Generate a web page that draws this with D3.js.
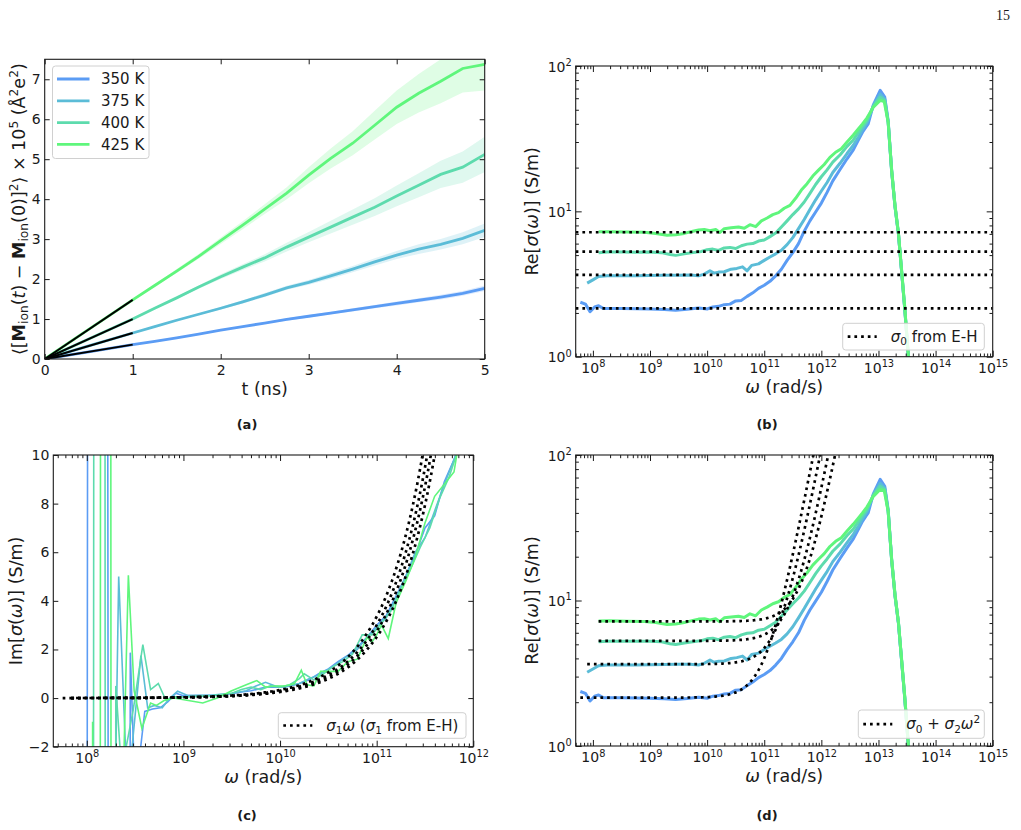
<!DOCTYPE html>
<html>
<head>
<meta charset="utf-8">
<script src="https://cdn.jsdelivr.net/npm/d3@7"></script>
<style>
  body { margin: 0; background: #fff; }
  svg { font-family: "DejaVu Sans", sans-serif; }
</style>
</head>
<body>
<svg id="fig" width="1021" height="830"></svg>
<script>
// ---------- data ----------
var temps = ["350 K", "375 K", "400 K", "425 K"];
var colors = ["#5b9cf4", "#5bbcd7", "#5ddbad", "#5ff67c"];

// (a) MSD of ionic dipole, x1e5, vs t (ns)
var tA = [0, 0.5, 1, 1.25, 1.5, 1.75, 2, 2.25, 2.5, 2.75, 3, 3.25, 3.5, 3.75, 4, 4.25, 4.5, 4.75, 5];
var msd350 = [0, 0.18, 0.36, 0.44, 0.53, 0.62, 0.72, 0.81, 0.9, 0.99, 1.07, 1.15, 1.23, 1.31, 1.39, 1.47, 1.55, 1.64, 1.77];
var msd375 = [0, 0.33, 0.65, 0.81, 0.97, 1.12, 1.27, 1.43, 1.6, 1.78, 1.92, 2.08, 2.25, 2.43, 2.6, 2.75, 2.87, 3.02, 3.22];
var msd400 = [0, 0.5, 1.0, 1.27, 1.53, 1.8, 2.06, 2.3, 2.53, 2.8, 3.05, 3.3, 3.55, 3.8, 4.08, 4.35, 4.62, 4.8, 5.12];
var msd425 = [0, 0.74, 1.48, 1.84, 2.2, 2.57, 2.96, 3.35, 3.75, 4.15, 4.6, 5.02, 5.4, 5.85, 6.3, 6.65, 6.95, 7.27, 7.37];
var err350 = [0, 0, 0, 0.01, 0.01, 0.01, 0.02, 0.02, 0.02, 0.03, 0.03, 0.03, 0.04, 0.04, 0.05, 0.05, 0.06, 0.06, 0.07];
var err375 = [0, 0, 0.01, 0.01, 0.02, 0.02, 0.03, 0.04, 0.05, 0.05, 0.06, 0.07, 0.08, 0.09, 0.1, 0.12, 0.13, 0.15, 0.17];
var err400 = [0, 0.01, 0.01, 0.02, 0.03, 0.04, 0.06, 0.07, 0.09, 0.11, 0.13, 0.16, 0.19, 0.22, 0.26, 0.3, 0.34, 0.39, 0.44];
var err425 = [0, 0.01, 0.02, 0.03, 0.05, 0.06, 0.08, 0.1, 0.12, 0.15, 0.2, 0.25, 0.3, 0.36, 0.42, 0.48, 0.55, 0.6, 0.65];
var fitSlopeA = [0.36, 0.65, 1.0, 1.48];   // black fits over 0-1 ns
var xTicksA = [0, 1, 2, 3, 4, 5];
var yTicksA = [0, 1, 2, 3, 4, 5, 6, 7];

// (b),(d) Re[sigma] : [log10(omega), S/m]
var re350 = [[7.78,2.37],[7.87,2.30],[7.95,2.04],[8.03,2.2],[8.1,2.24],[8.18,2.15],[8.3,2.15],[8.5,2.15],[8.75,2.14],[9.0,2.13],[9.25,2.11],[9.45,2.09],[9.65,2.12],[9.85,2.16],[10.0,2.13],[10.1,2.2],[10.2,2.22],[10.3,2.28],[10.4,2.3],[10.5,2.42],[10.6,2.44],[10.7,2.6],[10.8,2.75],[10.9,2.95],[11.0,3.1],[11.1,3.3],[11.2,3.6],[11.3,4.0],[11.4,4.6],[11.5,5.2],[11.6,6.0],[11.7,7.3],[11.8,8.6],[11.9,9.9],[12.0,11.4],[12.1,13.5],[12.2,16.2],[12.33,19.5],[12.45,23],[12.56,26.5],[12.65,31],[12.72,35],[12.78,38],[12.82,40],[12.91,54],[13.03,68],[13.11,61],[13.17,42],[13.23,19.3],[13.29,10.8],[13.35,7.0],[13.46,2.15],[13.6,0.4]];
var re375 = [[7.9,3.21],[8.0,3.38],[8.1,3.56],[8.25,3.6],[8.5,3.6],[8.75,3.61],[9.0,3.62],[9.25,3.63],[9.5,3.64],[9.7,3.65],[9.85,3.6],[9.95,3.7],[10.05,3.9],[10.12,3.76],[10.2,3.82],[10.3,3.84],[10.42,4.0],[10.52,4.05],[10.62,4.15],[10.7,3.9],[10.78,4.25],[10.9,4.35],[11.0,4.6],[11.1,4.85],[11.2,5.1],[11.3,5.4],[11.4,5.9],[11.5,6.6],[11.6,7.6],[11.7,8.8],[11.8,10.3],[11.9,12.0],[12.0,13.8],[12.1,15.8],[12.2,18.5],[12.33,21.5],[12.45,25],[12.56,28.5],[12.65,32.5],[12.72,36.5],[12.8,41],[12.91,53],[13.03,64],[13.11,59],[13.17,41],[13.23,19],[13.29,10.7],[13.35,6.95],[13.46,2.12],[13.6,0.4]];
var re400 = [[8.1,5.2],[8.25,5.25],[8.5,5.25],[8.75,5.24],[9.0,5.25],[9.2,5.2],[9.35,5.05],[9.45,4.98],[9.6,5.1],[9.75,5.2],[9.9,5.3],[10.0,5.45],[10.1,5.5],[10.2,5.38],[10.3,5.6],[10.4,5.65],[10.5,5.55],[10.6,5.8],[10.7,5.95],[10.8,6.0],[10.9,6.25],[11.0,6.35],[11.1,6.7],[11.2,7.1],[11.3,7.8],[11.4,8.6],[11.5,9.5],[11.6,10.4],[11.7,11.6],[11.8,13.3],[11.9,15.3],[12.0,17.3],[12.1,19.3],[12.2,21.8],[12.33,24.5],[12.45,28],[12.56,31],[12.65,35],[12.72,38.5],[12.8,42.5],[12.91,53],[13.03,61],[13.11,58],[13.17,41],[13.23,19],[13.29,10.8],[13.35,7.0],[13.46,2.15],[13.6,0.4]];
var re425 = [[8.1,7.24],[8.3,7.25],[8.6,7.2],[8.9,7.18],[9.1,7.05],[9.3,6.85],[9.45,6.9],[9.6,7.05],[9.75,7.3],[9.85,7.45],[9.95,7.5],[10.05,7.35],[10.15,7.5],[10.22,7.15],[10.3,7.6],[10.42,7.7],[10.55,7.8],[10.65,7.65],[10.75,8.1],[10.85,7.85],[10.95,8.6],[11.05,9.0],[11.15,9.5],[11.25,9.8],[11.35,10.5],[11.45,11.0],[11.55,12.3],[11.65,14.0],[11.75,15.5],[11.85,17.5],[11.95,19.2],[12.05,21],[12.15,23.5],[12.25,25.5],[12.35,27],[12.45,30],[12.56,33.5],[12.65,37],[12.72,40],[12.8,44],[12.91,52],[13.03,58],[13.1,57],[13.17,41],[13.23,19.5],[13.29,11],[13.35,7.1],[13.46,2.2],[13.6,0.4]];
var sigma0 = [2.15, 3.65, 5.28, 7.18];          // S/m, from E-H
var sigma2 = [1.86e-22, 1.06e-22, 5.45e-23, 3.07e-23];

// (c) Im[sigma] : [log10(omega), S/m]
var im350 = [[7.9,-400],[8.11,400],[8.33,-400],[8.45,1.87],[8.5,-4],[8.6,-0.55],[8.68,-0.45],[8.76,-0.4],[8.84,-0.15],[8.92,0.2],[9.0,0.1],[9.2,0.1],[9.4,0.12],[9.6,0.25],[9.7,0.3],[9.85,0.45],[10.0,0.45],[10.1,0.5],[10.2,0.6],[10.3,0.75],[10.4,1.0],[10.5,1.2],[10.6,1.5],[10.7,1.75],[10.8,2.1],[10.9,2.5],[11.0,3.0],[11.1,3.4],[11.2,4.2],[11.3,5.0],[11.4,5.9],[11.5,7.0],[11.6,7.5],[11.7,8.9],[11.8,9.8],[11.9,11]];
var im375 = [[8.15,-40],[8.33,5.0],[8.42,-4],[8.56,1.75],[8.63,-0.4],[8.7,-0.3],[8.78,-0.4],[8.86,0.0],[8.94,0.28],[9.05,0.1],[9.3,0.12],[9.5,0.2],[9.65,0.3],[9.75,0.5],[9.85,0.65],[9.95,0.5],[10.05,0.45],[10.2,0.6],[10.3,0.8],[10.4,0.95],[10.55,1.3],[10.65,1.6],[10.8,2.0],[10.9,2.5],[11.0,2.9],[11.1,3.3],[11.2,4.1],[11.3,5.0],[11.4,6.0],[11.5,6.6],[11.6,7.7],[11.7,8.8],[11.8,9.8],[11.9,10.8]];
var im400 = [[8.0,-400],[8.14,400],[8.24,-400],[8.3,0.5],[8.36,-3],[8.48,-0.5],[8.58,2.2],[8.66,0.35],[8.74,0.6],[8.82,-0.1],[8.9,0.05],[9.05,0.05],[9.3,0.1],[9.5,0.2],[9.6,0.35],[9.7,0.45],[9.8,0.35],[9.9,0.5],[10.0,0.45],[10.1,0.55],[10.2,0.8],[10.25,1.0],[10.35,0.75],[10.45,1.0],[10.55,1.3],[10.65,1.5],[10.75,1.8],[10.85,2.6],[10.95,2.6],[11.05,3.1],[11.15,3.6],[11.25,4.5],[11.35,5.3],[11.45,6.2],[11.55,7.0],[11.65,8.2],[11.75,9.1],[11.85,10.3]];
var im425 = [[8.06,-0.97],[8.08,-400],[8.2,400],[8.3,-400],[8.38,-3],[8.43,5.05],[8.49,0.3],[8.57,-1.25],[8.66,-0.2],[8.72,-0.3],[8.8,-0.1],[8.9,0.0],[9.05,-0.1],[9.2,-0.2],[9.35,0.0],[9.5,0.3],[9.65,0.55],[9.76,0.72],[9.85,0.45],[9.95,0.5],[10.05,0.5],[10.15,0.6],[10.22,1.15],[10.28,0.55],[10.35,0.5],[10.42,1.1],[10.5,1.1],[10.6,1.1],[10.7,1.5],[10.8,1.6],[10.9,2.5],[10.95,2.3],[11.0,2.6],[11.05,3.0],[11.12,2.45],[11.2,3.9],[11.3,4.8],[11.4,5.8],[11.5,7.2],[11.6,8.3],[11.7,8.8],[11.8,9.3],[11.85,10.5]];
var sigma1 = [3.35e-11, 3.0e-11, 2.75e-11, 2.51e-11];
var fitStartC = [7.75, 7.84, 7.84, 7.84];

var xExpBD = [8, 9, 10, 11, 12, 13, 14, 15];
var yExpBD = [0, 1, 2];
var xExpC = [8, 9, 10, 11, 12];
var yTicksC = [-2, 0, 2, 4, 6, 8, 10];

// ---------- layout ----------
var svg = d3.select("#fig");
var FONT = "DejaVu Sans", INK = "#1a1a1a";
var LBL = 17.5, TK = 14, LEG = 15;
var boxA = {l: 44.7, r: 484.7, t: 59.3, b: 359};
var boxB = {l: 575.7, r: 992.7, t: 66, b: 356.7};
var boxC = {l: 53.3, r: 473.3, t: 455, b: 746.7};
var boxD = {l: 575.7, r: 992.7, t: 455, b: 746};
var dots = "2.7,4";

// text with italic / bold / sub / sup runs
function rich(text, parts, size) {
  var shift = 0;
  parts.forEach(function(p) {
    var s = p[1] || {};
    var target = s.sub ? size * 0.22 : s.sup ? -size * 0.4 : 0;
    var ts = text.append("tspan").text(p[0]);
    if (target - shift !== 0) ts.attr("dy", target - shift);
    shift = target;
    if (s.sub || s.sup) ts.attr("font-size", size * 0.7);
    if (s.i) ts.attr("font-style", "italic");
    if (s.b) ts.attr("font-weight", "bold");
  });
}

function clipFor(id, box) {
  svg.append("clipPath").attr("id", id).append("rect")
    .attr("x", box.l).attr("y", box.t).attr("width", box.r - box.l).attr("height", box.b - box.t);
  return svg.append("g").attr("clip-path", "url(#" + id + ")");
}

function frame(box) {
  svg.append("rect").attr("x", box.l).attr("y", box.t)
    .attr("width", box.r - box.l).attr("height", box.b - box.t)
    .attr("fill", "none").attr("stroke", INK).attr("stroke-width", 1.1);
}

function axis(scale, side, box, vals, len, fmt) {
  var gen = {bottom: d3.axisBottom, top: d3.axisTop, left: d3.axisLeft, right: d3.axisRight}[side](scale)
    .tickValues(vals).tickSizeInner(-len).tickSizeOuter(0)
    .tickPadding(side == "bottom" ? 6 : 4)
    .tickFormat(fmt || function() { return ""; });
  var tr = side == "bottom" ? [0, box.b] : side == "top" ? [0, box.t] : side == "left" ? [box.l, 0] : [box.r, 0];
  var a = svg.append("g").attr("transform", "translate(" + tr + ")").call(gen);
  a.attr("font-family", FONT).attr("font-size", TK);
  a.select(".domain").remove();
  a.selectAll(".tick line").attr("stroke", INK).attr("stroke-width", 1);
  a.selectAll(".tick text").attr("fill", INK);
  return a;
}

// replace tick text with 10^n
function powLabels(a, side) {
  a.selectAll(".tick text").each(function(d) {
    var t = d3.select(this).text("").attr("dy", null);
    if (side == "bottom") t.attr("y", 16.3);
    else t.attr("y", 5);
    rich(t, [["10"], [String(Math.round(Math.log10(d))), {sup: 1}]], TK);
  });
}

function minorsOf(scale) {
  var dom = scale.domain(), out = [];
  for (var e = Math.floor(Math.log10(dom[0])); e < Math.ceil(Math.log10(dom[1])); e++)
    for (var k = 2; k < 10; k++) {
      var v = k * Math.pow(10, e);
      if (v >= dom[0] && v <= dom[1]) out.push(v);
    }
  return out;
}

function logAxisX(x, box, exps) {
  var major = exps.map(function(e) { return Math.pow(10, e); });
  var minor = minorsOf(x);
  powLabels(axis(x, "bottom", box, major, 6, function() { return ""; }), "bottom");
  axis(x, "bottom", box, minor, 3.2);
  axis(x, "top", box, major, 6);
  axis(x, "top", box, minor, 3.2);
}

function logAxisY(y, box, exps) {
  var major = exps.map(function(e) { return Math.pow(10, e); });
  var minor = minorsOf(y);
  powLabels(axis(y, "left", box, major, 6, function() { return ""; }), "left");
  axis(y, "left", box, minor, 3.2);
  axis(y, "right", box, major, 6);
  axis(y, "right", box, minor, 3.2);
}

function xLabel(box, parts) {
  var t = svg.append("text").attr("x", (box.l + box.r) / 2).attr("y", box.b + 36)
    .attr("text-anchor", "middle").attr("font-size", LBL).attr("fill", INK);
  rich(t, parts, LBL);
}

function yLabel(cx, box, parts) {
  var t = svg.append("text")
    .attr("transform", "translate(" + cx + "," + (box.t + box.b) / 2 + ") rotate(-90)")
    .attr("text-anchor", "middle").attr("y", 6).attr("font-size", LBL).attr("fill", INK);
  rich(t, parts, LBL);
}

function caption(x, y, s) {
  svg.append("text").attr("x", x).attr("y", y).attr("text-anchor", "middle")
    .attr("font-size", 13).attr("font-weight", "bold").attr("fill", INK).text(s);
}

function legendBox(x, y, w, h) {
  svg.append("rect").attr("x", x).attr("y", y).attr("width", w).attr("height", h).attr("rx", 3)
    .attr("fill", "#fff").attr("fill-opacity", 0.85).attr("stroke", "#d0d0d0");
}

function dottedLegend(x, y, w, h, parts) {
  legendBox(x, y, w, h);
  var cy = y + h / 2;
  svg.append("line").attr("x1", x + 5).attr("x2", x + 34).attr("y1", cy).attr("y2", cy)
    .attr("stroke", "#000").attr("stroke-width", 2.7).attr("stroke-dasharray", dots);
  var t = svg.append("text").attr("x", x + 48).attr("y", cy + 5.3)
    .attr("font-size", LEG).attr("fill", INK);
  rich(t, parts, LEG);
}

// ---------- (a) ----------
(function() {
  var x = d3.scaleLinear().domain([0, 5]).range([boxA.l, boxA.r]);
  var y = d3.scaleLinear().domain([0, 7.5]).range([boxA.b, boxA.t]);
  var g = clipFor("clipA", boxA);
  var series = [[msd350, err350], [msd375, err375], [msd400, err400], [msd425, err425]];
  series.forEach(function(s, i) {
    var pts = tA.map(function(t, k) { return {t: t, m: s[0][k], e: s[1][k]}; });
    g.append("path").datum(pts).attr("fill", colors[i]).attr("fill-opacity", 0.2)
      .attr("d", d3.area().x(function(d) { return x(d.t); })
        .y0(function(d) { return y(d.m - d.e); }).y1(function(d) { return y(d.m + d.e); }));
  });
  series.forEach(function(s, i) {
    var pts = tA.map(function(t, k) { return [t, s[0][k]]; });
    g.append("path").datum(pts).attr("fill", "none").attr("stroke", colors[i]).attr("stroke-width", 2.8)
      .attr("d", d3.line().x(function(d) { return x(d[0]); }).y(function(d) { return y(d[1]); }));
  });
  fitSlopeA.forEach(function(k) {
    g.append("path").datum([0, 1]).attr("fill", "none").attr("stroke", "#000").attr("stroke-width", 2)
      .attr("d", d3.line().x(function(t) { return x(t); }).y(function(t) { return y(k * t); }));
  });
  frame(boxA);
  axis(x, "bottom", boxA, xTicksA, 5, d3.format("d"));
  axis(x, "top", boxA, xTicksA, 5);
  axis(y, "left", boxA, yTicksA, 5, d3.format("d"));
  axis(y, "right", boxA, yTicksA, 5);
  xLabel(boxA, [["t (ns)"]]);
  yLabel(18.5, boxA, [["\u27e8["], ["M", {b: 1}], ["ion", {sub: 1}], ["("], ["t", {i: 1}], [") \u2212 "],
    ["M", {b: 1}], ["ion", {sub: 1}], ["(0)]"], ["2", {sup: 1}], ["\u27e9 \u00d7 10"], ["5", {sup: 1}],
    [" (\u00c5"], ["2", {sup: 1}], ["e"], ["2", {sup: 1}], [")"]]);
  legendBox(52.5, 66, 96.5, 92.5);
  temps.forEach(function(s, i) {
    var cy = 79 + i * 21.8;
    svg.append("line").attr("x1", 57).attr("x2", 89.5).attr("y1", cy).attr("y2", cy)
      .attr("stroke", colors[i]).attr("stroke-width", 2.8);
    svg.append("text").attr("x", 101).attr("y", cy + 5.3)
      .attr("font-size", LEG).attr("fill", INK).text(s);
  });
  caption(247, 429, "(a)");
})();

// ---------- (b) and (d) ----------
var reSeries = [re350, re375, re400, re425];
function rePanel(box, id, withFits) {
  var x = d3.scaleLog().domain([5e7, 1e15]).range([box.l, box.r]);
  var y = d3.scaleLog().domain([1, 100]).range([box.b, box.t]);
  var g = clipFor(id, box);
  var line = d3.line().x(function(d) { return x(Math.pow(10, d[0])); }).y(function(d) { return y(d[1]); });
  reSeries.forEach(function(s, i) {
    g.append("path").datum(s).attr("fill", "none").attr("stroke", colors[i])
      .attr("stroke-width", 3).attr("stroke-linejoin", "round").attr("d", line);
  });
  sigma0.forEach(function(s0, i) {
    var pts;
    if (withFits) {
      pts = d3.range(reSeries[i][0][0], 12.6, 0.01).map(function(e) {
        return [e, s0 + sigma2[i] * Math.pow(10, 2 * e)];
      });
    } else {
      pts = [[Math.log10(5e7), s0], [15, s0]];
    }
    g.append("path").datum(pts).attr("fill", "none").attr("stroke", "#000")
      .attr("stroke-width", 2.7).attr("stroke-dasharray", dots).attr("d", line);
  });
  frame(box);
  logAxisX(x, box, xExpBD);
  logAxisY(y, box, yExpBD);
  xLabel(box, [["\u03c9", {i: 1}], [" (rad/s)"]]);
  yLabel(532, box, [["Re["], ["\u03c3", {i: 1}], ["("], ["\u03c9", {i: 1}], [")] (S/m)"]]);
}
rePanel(boxB, "clipB", false);
dottedLegend(842.7, 323.3, 141.6, 26.7, [["\u03c3", {i: 1}], ["0", {sub: 1}], [" from E-H"]]);
caption(767, 429, "(b)");

rePanel(boxD, "clipD", true);
dottedLegend(858.3, 710, 126, 28.3, [["\u03c3", {i: 1}], ["0", {sub: 1}], [" + "], ["\u03c3", {i: 1}], ["2", {sub: 1}],
  ["\u03c9", {i: 1}], ["2", {sup: 1}]]);
caption(767, 820, "(d)");

// ---------- (c) ----------
(function() {
  var x = d3.scaleLog().domain([4.5e7, 1e12]).range([boxC.l, boxC.r]);
  var y = d3.scaleLinear().domain([-2, 10]).range([boxC.b, boxC.t]);
  var g = clipFor("clipC", boxC);
  var line = d3.line().x(function(d) { return x(Math.pow(10, d[0])); }).y(function(d) { return y(d[1]); });
  [im350, im375, im400, im425].forEach(function(s, i) {
    g.append("path").datum(s).attr("fill", "none").attr("stroke", colors[i])
      .attr("stroke-width", 1.6).attr("d", line);
  });
  sigma1.forEach(function(s1, i) {
    var pts = d3.range(fitStartC[i], 11.75, 0.01).map(function(e) { return [e, s1 * Math.pow(10, e)]; });
    g.append("path").datum(pts).attr("fill", "none").attr("stroke", "#000")
      .attr("stroke-width", 2.7).attr("stroke-dasharray", dots).attr("d", line);
  });
  frame(boxC);
  logAxisX(x, boxC, xExpC);
  axis(y, "left", boxC, yTicksC, 5, function(d) { return d < 0 ? "\u2212" + (-d) : d; });
  axis(y, "right", boxC, yTicksC, 5);
  xLabel(boxC, [["\u03c9", {i: 1}], [" (rad/s)"]]);
  yLabel(15.5, boxC, [["Im["], ["\u03c3", {i: 1}], ["("], ["\u03c9", {i: 1}], [")] (S/m)"]]);
  dottedLegend(278.3, 712.7, 187.7, 25.6, [["\u03c3", {i: 1}], ["1", {sub: 1}], ["\u03c9", {i: 1}],
    [" ("], ["\u03c3", {i: 1}], ["1", {sub: 1}], [" from E-H)"]]);
  caption(247, 820, "(c)");
})();

// page number
svg.append("text").attr("x", 1010).attr("y", 20).attr("text-anchor", "end")
  .attr("font-family", "Liberation Serif").attr("font-size", 14).attr("fill", INK).text("15");
</script>
</body>
</html>
